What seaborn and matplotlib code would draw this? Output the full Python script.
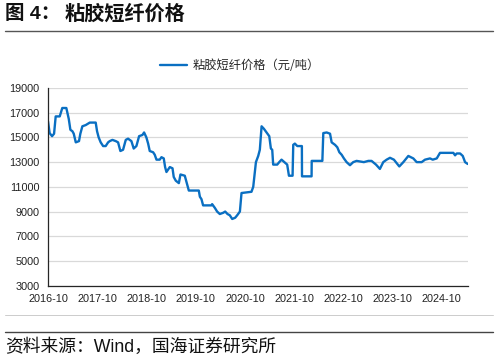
import numpy as np
import pandas as pd
import seaborn as sns
import matplotlib.pyplot as plt
import matplotlib.dates as mdates
from matplotlib.lines import Line2D

# viscose staple fibre price
dates = [
    "2016-10-01", "2016-10-13", "2016-10-31", "2016-11-15", "2016-11-27", "2016-12-27",
    "2017-01-15", "2017-02-14", "2017-03-04", "2017-03-16", "2017-03-31", "2017-04-10",
    "2017-04-25", "2017-05-19", "2017-05-29", "2017-06-13", "2017-07-08", "2017-08-07",
    "2017-09-20", "2017-09-30", "2017-10-12", "2017-10-27", "2017-11-14", "2017-12-03",
    "2017-12-21", "2018-01-02", "2018-01-22", "2018-02-16", "2018-03-05", "2018-03-22",
    "2018-04-11", "2018-05-01", "2018-05-18", "2018-06-12", "2018-06-29", "2018-07-19",
    "2018-08-08", "2018-09-02", "2018-09-14", "2018-10-01", "2018-10-14", "2018-10-26",
    "2018-11-20", "2018-12-02", "2018-12-15", "2019-01-08", "2019-01-21", "2019-02-07",
    "2019-02-17", "2019-02-27", "2019-03-24", "2019-04-13", "2019-04-22", "2019-05-07",
    "2019-05-30", "2019-06-11", "2019-07-13", "2019-08-02", "2019-08-12", "2019-09-25",
    "2019-10-25", "2019-11-02", "2019-11-14", "2019-11-26", "2020-01-27", "2020-02-01",
    "2020-02-21", "2020-03-09", "2020-03-29", "2020-04-23", "2020-05-08", "2020-05-25",
    "2020-06-11", "2020-06-29", "2020-07-21", "2020-08-05", "2020-08-25", "2020-09-06",
    "2020-11-19", "2020-12-02", "2020-12-22", "2021-01-08", "2021-01-20", "2021-02-02",
    "2021-02-19", "2021-03-11", "2021-03-31", "2021-04-12", "2021-04-22", "2021-04-29",
    "2021-05-29", "2021-06-13", "2021-06-30", "2021-08-01", "2021-08-11", "2021-08-24",
    "2021-09-20", "2021-09-25", "2021-10-07", "2021-10-25", "2021-11-28", "2021-11-29",
    "2022-02-08", "2022-02-09", "2022-04-29", "2022-05-06", "2022-05-31", "2022-06-25",
    "2022-07-07", "2022-08-01", "2022-08-18", "2022-09-02", "2022-09-19", "2022-10-06",
    "2022-10-26", "2022-11-20", "2022-12-14", "2023-01-08", "2023-02-02", "2023-03-03",
    "2023-04-05", "2023-04-29", "2023-06-01", "2023-06-30", "2023-07-25", "2023-08-19",
    "2023-09-13", "2023-10-12", "2023-11-21", "2023-12-21", "2024-01-27", "2024-03-04",
    "2024-03-29", "2024-05-05", "2024-05-30", "2024-07-06", "2024-07-26", "2024-08-25",
    "2024-09-18", "2024-12-26", "2025-01-08", "2025-01-20", "2025-02-14", "2025-03-06",
    "2025-03-23", "2025-04-12",
]
prices = [
    16300, 15350, 15100, 15300, 16700, 16700,
    17380, 17380, 16500, 15620, 15500, 15300,
    14600, 14700, 15300, 15900, 16000, 16200,
    16200, 15500, 15000, 14600, 14300, 14300,
    14600, 14700, 14800, 14700, 14600, 13900,
    14000, 14800, 14900, 14700, 14100, 14300,
    15100, 15200, 15400, 15000, 14500, 13900,
    13800, 13600, 13200, 13200, 13400, 13300,
    12600, 12200, 12600, 12500, 11800, 11500,
    11300, 12000, 11900, 11100, 10700, 10700,
    10700, 10200, 10000, 9500, 9500, 9600,
    9300, 9000, 8800, 8900, 9000, 8800,
    8700, 8400, 8500, 8700, 9000, 10500,
    10600, 11000, 13000, 13500, 14000, 15900,
    15700, 15400, 15100, 14100, 14000, 12800,
    12800, 13000, 13200, 12900, 12800, 11900,
    11900, 14400, 14500, 14300, 14300, 11850,
    11850, 13100, 13100, 15350, 15400, 15300,
    14600, 14400, 14200, 13800, 13600, 13300,
    13000, 12750, 13000, 13100, 13050, 13000,
    13100, 13100, 12800, 12450, 13000, 13200,
    13350, 13200, 12650, 13000, 13500, 13300,
    13000, 13000, 13200, 13300, 13200, 13300,
    13750, 13750, 13550, 13700, 13700, 13500,
    13000, 12850,
]
series_name = "粘胶短纤价格（元/吨）"
fig_label = "图 4："
title_text = "粘胶短纤价格"
source_text = "资料来源：Wind，国海证券研究所"
y_ticks = [3000, 5000, 7000, 9000, 11000, 13000, 15000, 17000, 19000]
x_tick_dates = ["2016-10-01", "2017-10-01", "2018-10-01", "2019-10-01", "2020-10-01",
                "2021-10-01", "2022-10-01", "2023-10-01", "2024-10-01"]

df = pd.DataFrame({"date": pd.to_datetime(dates), "price": prices})

sns.set_theme(style="white")
plt.rcParams['font.family'] = ['Liberation Sans', 'Noto Sans CJK SC']
plt.rcParams['axes.unicode_minus'] = False

line_color = "#0a6fc2"
fig = plt.figure(figsize=(4.98, 3.6), dpi=100)
ax = fig.add_axes([0.0964, 0.2064, 0.8434, 0.5492])

sns.lineplot(data=df, x="date", y="price", ax=ax, color=line_color, linewidth=1.7)

ax.set_ylim(3000, 19000)
ax.set_yticks(y_ticks)
ax.set_xlim(pd.Timestamp("2016-10-01"), pd.Timestamp("2025-04-14"))
ax.set_xticks(pd.to_datetime(x_tick_dates))
ax.xaxis.set_major_formatter(mdates.DateFormatter("%Y-%m"))
ax.set_xlabel("")
ax.set_ylabel("")
ax.grid(axis="y", color="#d9d9d9", linewidth=0.9)
ax.grid(axis="x", visible=False)
for s in ["top", "right"]:
    ax.spines[s].set_visible(False)
for s in ["left", "bottom"]:
    ax.spines[s].set_color("#262626")
    ax.spines[s].set_linewidth(0.9)
ax.tick_params(axis="both", direction="in", length=3, width=0.8, color="#262626",
               labelsize=7.8, labelcolor="#222222")
ax.tick_params(axis="x", pad=6)
ax.tick_params(axis="y", pad=6)

# legend above the plot
handle = Line2D([0], [0], color=line_color, linewidth=1.7)
fig.legend([handle], [series_name], loc="center", bbox_to_anchor=(0.482, 0.817),
           frameon=False, handlelength=2.2, handletextpad=0.5,
           prop={"family": ["Noto Sans CJK SC"], "size": 8.8})

# title, rules and source
fig.text(0.010, 0.962, fig_label, fontsize=14, fontweight="bold", va="center",
         ha="left", color="#111111", family=["Liberation Sans", "Noto Sans CJK SC"])
fig.text(0.130, 0.962, title_text, fontsize=14.5, fontweight="bold", va="center",
         ha="left", color="#111111", family=["Noto Sans CJK SC"])
fig.add_artist(Line2D([0.01, 0.99], [0.913, 0.913], color="#555555", linewidth=1.0))
fig.add_artist(Line2D([0.01, 0.99], [0.125, 0.125], color="#cccccc", linewidth=0.7))
fig.add_artist(Line2D([0.01, 0.99], [0.078, 0.078], color="#444444", linewidth=1.0))
fig.text(0.010, 0.035, source_text, fontsize=12.8, va="center", ha="left", color="#111111",
         family=["Liberation Sans", "Noto Sans CJK SC"])

plt.savefig("out.png", dpi=100)
